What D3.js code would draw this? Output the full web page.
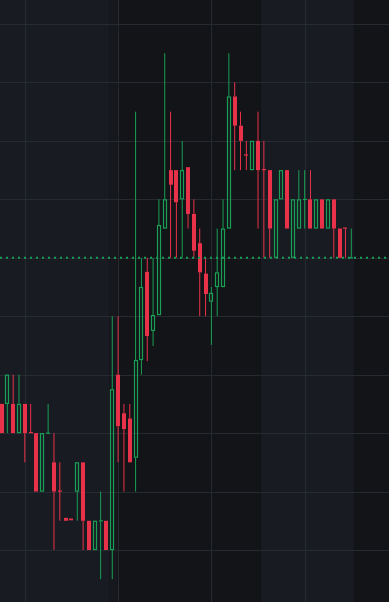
<!DOCTYPE html>
<html>
<head>
<meta charset="utf-8">
<script src="https://cdn.jsdelivr.net/npm/d3@7"></script>
<style>
  html, body { margin: 0; padding: 0; background: #131417; overflow: hidden; }
  #chart { width: 389px; height: 602px; }
</style>
</head>
<body>
<div id="chart"></div>
<script>
// bar index -> OHLC (price units are arbitrary, grid = 1.0)
const bars   = d3.range(61);
const opens  = [102.5,102.5,102.5,102,102.5,102.01,102,101,101.99,101.5,
                101.01,100.55,100.53,101,101.5,100.5,100,100.49,100.5,100,
                103,102.34,102.25,101.58,103.25,104.76,103.75,104.02,105.5,106.5,
                106.5,106,106.55,105.75,105.25,104.73,104.25,104.5,104.5,105.5,
                107.76,107.26,106.76,106.5,107,106.51,106.5,105,106,106.5,
                105,105.5,105.99,106,105.5,106,105.5,106,105.5,105.51,104.99];
const highs  = [102.5,103,103,103,102.5,102.5,102,102,102.5,102,
                101.5,100.55,100.53,101.5,101.5,100.5,100.5,101,100.5,104,
                104,102.5,102.5,107.5,105,105,105,106,108.5,107.5,
                106.5,107,106.55,106,105.5,105,104.5,105.5,106,108.5,
                108,107.5,107,107,107.5,107,106.5,106,106.5,106.5,
                106,106.5,106.5,106.5,106,106,106,106,105.5,105.5,105.5];
const lows   = [102,102,102,102,101.5,102,101,101,102,100,
                100.5,100.5,100.5,100.5,100,100,100,99.5,100,99.5,
                101.5,101,101.5,101,103,103.23,103.49,104.02,105.5,105,
                105,105,105.5,105,104,104,103.51,104,104.5,105.5,
                106.5,106.5,106.5,106.5,105.5,105,105,105,106,105.5,
                105,105.5,105.5,105.5,105.5,105.5,105.5,105,105,105,105];
const closes = [102,103,102,102.5,102,102,101,102,102,101,
                101,100.5,100.5,101.5,100.5,100,100.5,100.5,100,102.75,
                102.12,102.07,101.5,103.25,104.5,103.66,104.02,105.56,106,106.25,
                105.95,106.5,105.75,105.12,104.75,104.38,104.4,104.75,105.5,107.76,
                107.26,107,106.75,107,106.5,106.5,105.5,106,106.5,105.5,
                106,106,106,105.5,106,105.5,106,105.5,105,105.5,105];

// grid ticks and session shading (in bar index units)
const priceTicks = d3.range(99, 111);
const timeTicks  = [4, 20, 36, 52];
const sessions   = [
  { from: -2,   to: 18.5, shade: "light" },
  { from: 18.5, to: 19.9, shade: "mid" },
  { from: 19.9, to: 44.5, shade: "dark" },
  { from: 44.5, to: 60.5, shade: "light" },
  { from: 60.5, to: 70,   shade: "dark" }
];
const lastPrice = closes[closes.length - 1];

const width = 389;
const height = 602;

const upColor = "#1a9f56";
const downColor = "#e8324a";
const shadeColor = { light: "#181b22", mid: "#16181d", dark: "#131417" };

const data = bars.map((i) => ({
  i: i, open: opens[i], high: highs[i], low: lows[i], close: closes[i]
}));

const x = d3.scaleLinear().domain([0, 60]).range([1.5, 351.3]);
const y = d3.scaleLinear().domain([100, 109]).range([550, 24]);

const step = x(1) - x(0);
const bodyW = Math.round(step * 0.7);

const svg = d3.select("#chart")
  .append("svg")
  .attr("width", width)
  .attr("height", height);

// session backgrounds
svg.append("g")
  .selectAll("rect")
  .data(sessions)
  .enter()
  .append("rect")
  .attr("x", d => Math.max(0, x(d.from)))
  .attr("y", 0)
  .attr("width", d => Math.min(width, x(d.to)) - Math.max(0, x(d.from)))
  .attr("height", height)
  .attr("fill", d => shadeColor[d.shade]);

// grid via axes, labels hidden
const yGrid = svg.append("g")
  .attr("transform", "translate(0,0)")
  .call(d3.axisRight(y).tickValues(priceTicks).tickSize(width).tickFormat(""));
const xGrid = svg.append("g")
  .attr("transform", `translate(0,${height})`)
  .call(d3.axisTop(x).tickValues(timeTicks).tickSize(height).tickFormat(""));

[yGrid, xGrid].forEach(g => {
  g.select(".domain").remove();
  g.selectAll("line")
    .attr("stroke", "#262a31")
    .attr("stroke-width", 1)
    .attr("shape-rendering", "crispEdges");
});

// candles
const candles = svg.append("g")
  .selectAll("g")
  .data(data)
  .enter()
  .append("g");

candles.each(function(d) {
  const g = d3.select(this);
  const up = d.close > d.open;
  const col = up ? upColor : downColor;
  const cx = x(d.i);
  const yTop = y(Math.max(d.open, d.close));
  const yBot = y(Math.min(d.open, d.close));
  const left = Math.round(cx - bodyW / 2);

  // wicks (outside the body only)
  if (y(d.high) < yTop - 0.3) {
    g.append("line")
      .attr("x1", cx).attr("x2", cx)
      .attr("y1", y(d.high)).attr("y2", yTop)
      .attr("stroke", col).attr("stroke-width", 1);
  }
  if (y(d.low) > yBot + 0.3) {
    g.append("line")
      .attr("x1", cx).attr("x2", cx)
      .attr("y1", yBot).attr("y2", y(d.low))
      .attr("stroke", col).attr("stroke-width", 1);
  }

  const h = yBot - yTop;
  if (h < 2) {
    g.append("rect")
      .attr("x", left).attr("width", bodyW)
      .attr("y", yTop - 0.5).attr("height", Math.max(1.2, h))
      .attr("fill", col);
  } else if (up) {
    g.append("rect")
      .attr("x", left + 0.5).attr("width", bodyW - 1)
      .attr("y", yTop + 0.5).attr("height", h - 1)
      .attr("fill", "none")
      .attr("stroke", col)
      .attr("stroke-width", 1.2);
  } else {
    g.append("rect")
      .attr("x", left).attr("width", bodyW)
      .attr("y", yTop).attr("height", h)
      .attr("fill", col);
  }
});

// last price dotted line
svg.append("line")
  .attr("x1", 0).attr("x2", width)
  .attr("y1", y(lastPrice)).attr("y2", y(lastPrice))
  .attr("stroke", upColor)
  .attr("stroke-width", 2)
  .attr("stroke-dasharray", "2 4");
</script>
</body>
</html>
